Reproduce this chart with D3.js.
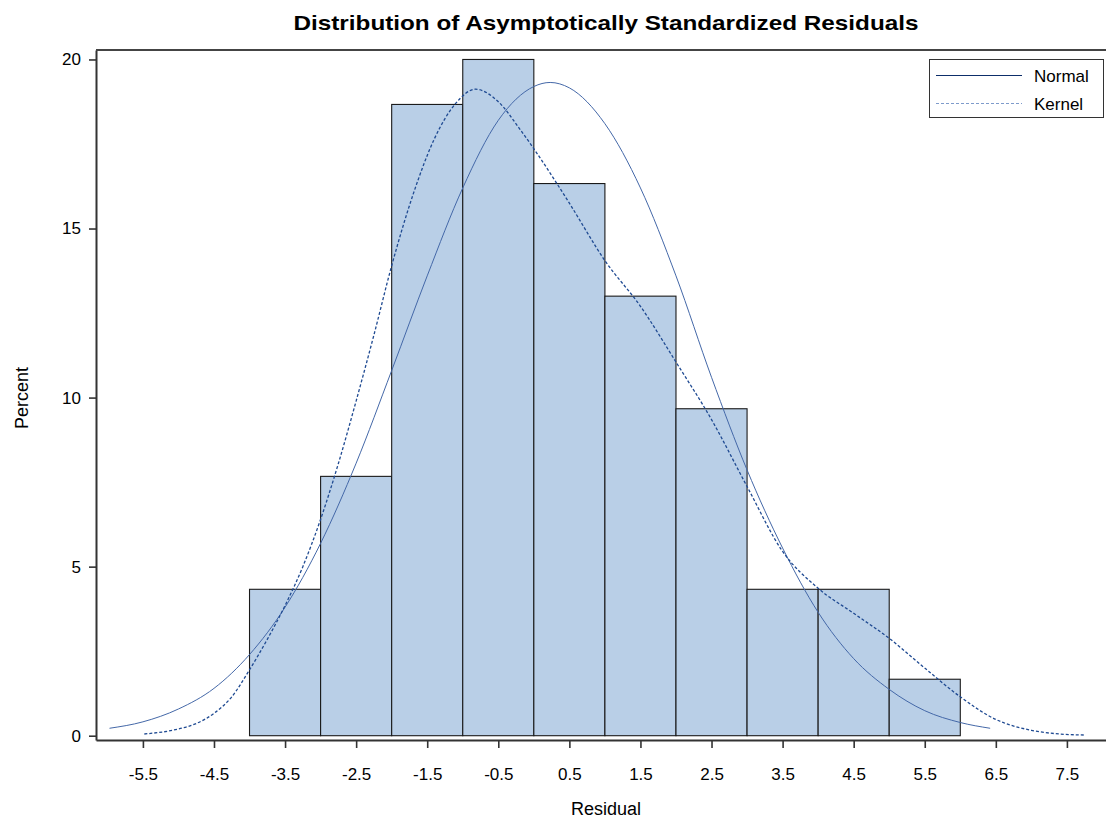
<!DOCTYPE html>
<html><head><meta charset="utf-8">
<script src="https://cdn.jsdelivr.net/npm/d3@7"></script>
<style>body{margin:0;background:#fff}svg{display:block;font-family:"Liberation Sans",Arial,sans-serif}</style>
</head><body><svg id="c" width="1106" height="822"></svg>
<script>
const binStarts = [-4,-3,-2,-1,0,1,2,3,4,5];
const binPercent = [4.33,7.67,18.67,20,16.33,13,9.67,4.33,4.33,1.67];
const xTicks = [-5.5,-4.5,-3.5,-2.5,-1.5,-0.5,0.5,1.5,2.5,3.5,4.5,5.5,6.5,7.5];
const yTicks = [0,5,10,15,20];
const normalX = [-5.97,-5.5,-5.0,-4.5,-4.0,-3.5,-3.0,-2.5,-2.0,-1.5,-1.0,-0.5,0.0,0.23,0.5,1.0,1.5,2.0,2.5,3.0,3.5,4.0,4.5,5.0,5.5,6.0,6.42];
const normalY = [0.22,0.41,0.79,1.40,2.40,3.80,5.69,8.06,10.80,13.6,16.2,18.2,19.2,19.32,19.16,18.1,16.2,13.6,10.6,7.86,5.55,3.65,2.28,1.37,0.74,0.39,0.22];
const kernelX = [-5.48,-5.0,-4.75,-4.5,-4.25,-4.0,-3.75,-3.5,-3.25,-3.0,-2.75,-2.5,-2.25,-2.0,-1.7,-1.4,-1.1,-0.82,-0.5,-0.2,0.1,0.5,1.0,1.5,2.0,2.5,3.0,3.5,4.0,4.5,5.0,5.5,6.0,6.5,7.0,7.4,7.76];
const kernelY = [0.05,0.20,0.36,0.66,1.15,1.95,2.85,3.85,5.0,6.4,8.05,9.9,11.85,13.9,16.0,17.65,18.70,19.12,18.75,17.95,17.05,15.75,14.05,12.70,11.05,9.35,7.37,5.45,4.36,3.62,2.88,2.0,1.15,0.48,0.16,0.05,0.02];
const legendLabels = ["Normal","Kernel"];

const svg = d3.select("#c");
const x = d3.scaleLinear().domain([-6.16,8.05]).range([96,1106]);
const y = d3.scaleLinear().domain([-0.127,20.28]).range([740,50]);
const axisCol = "#333";

// bars
svg.append("g").selectAll("rect").data(binStarts).join("rect")
  .attr("x", d=>x(d)).attr("width", d=>x(d+1)-x(d))
  .attr("y", (d,i)=>y(binPercent[i])).attr("height",(d,i)=>y(0)-y(binPercent[i]))
  .attr("fill","#B9CFE7").attr("stroke","#1a1a1a").attr("stroke-width",1.1);

// curves
const line = d3.line().x(d=>x(d[0])).y(d=>y(d[1])).curve(d3.curveMonotoneX);
svg.append("path").datum(normalX.map((v,i)=>[v,normalY[i]]))
  .attr("d",line).attr("fill","none").attr("stroke","#4468A8").attr("stroke-width",1);
svg.append("path").datum(kernelX.map((v,i)=>[v,kernelY[i]]))
  .attr("d",line).attr("fill","none").attr("stroke","#1F4A92").attr("stroke-width",1.3).attr("stroke-dasharray","3,2");

// axes
const xa = svg.append("g").attr("transform","translate(0,740)")
  .call(d3.axisBottom(x).tickValues(xTicks).tickSize(8).tickSizeOuter(0).tickPadding(20).tickFormat(d=>d.toFixed(1)));
const ya = svg.append("g").attr("transform","translate(96,0)")
  .call(d3.axisLeft(y).tickValues(yTicks).tickSize(7).tickSizeOuter(0).tickPadding(8));
[xa,ya].forEach(g=>{
  g.select(".domain").attr("stroke",axisCol).attr("stroke-width",2);
  g.selectAll(".tick line").attr("stroke",axisCol).attr("stroke-width",1.6);
  g.selectAll("text").attr("font-size",17).attr("fill","#000").attr("font-family","'Liberation Sans',Arial,sans-serif");
});
// top frame
svg.append("line").attr("x1",96).attr("x2",1106).attr("y1",50).attr("y2",50).attr("stroke","#444").attr("stroke-width",2);

// titles
svg.append("text").attr("x",606).attr("y",30).attr("text-anchor","middle")
  .attr("font-size",21).attr("font-weight","bold").attr("textLength",625).attr("lengthAdjust","spacingAndGlyphs")
  .text("Distribution of Asymptotically Standardized Residuals");
svg.append("text").attr("x",606).attr("y",815).attr("text-anchor","middle").attr("font-size",18).text("Residual");
svg.append("text").attr("transform","translate(28,398) rotate(-90)").attr("text-anchor","middle").attr("font-size",18).text("Percent");

// legend
const lg = svg.append("g");
lg.append("rect").attr("x",929.5).attr("y",59.5).attr("width",174).attr("height",58).attr("fill","#fff").attr("stroke","#333").attr("stroke-width",1);
lg.append("line").attr("x1",936).attr("x2",1022).attr("y1",75.5).attr("y2",75.5).attr("stroke","#0D2E6A").attr("stroke-width",1.2);
lg.append("line").attr("x1",936).attr("x2",1022).attr("y1",103.5).attr("y2",103.5).attr("stroke","#7E9BCB").attr("stroke-width",1.2).attr("stroke-dasharray","3,2");
legendLabels.forEach((t,i)=>lg.append("text").attr("x",1034).attr("y",82+i*28).attr("font-size",17).text(t));
</script></body></html>
